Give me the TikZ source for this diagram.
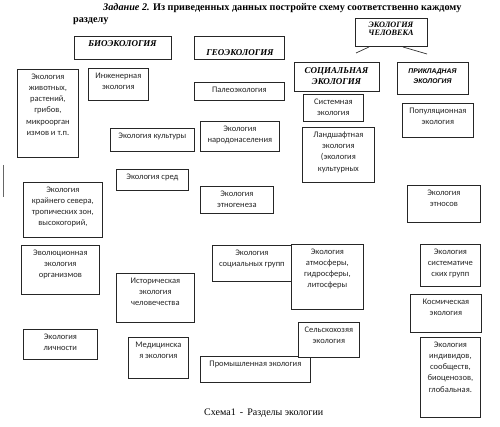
\documentclass[tikz,border=0pt]{standalone}
\usepackage{fontspec}
\setmainfont{Liberation Serif}
\newfontfamily\boxfont{Carlito}
\newfontfamily\arialf{Liberation Sans}
\tikzset{
  box/.style={draw=black!85, line width=0.75pt, fill=white, inner sep=0pt, anchor=north west},
  txt/.style={font=\boxfont\fontsize{8.5}{11.2}\selectfont, align=center, anchor=north, inner sep=0pt, text=black!85},
  head/.style={font=\bfseries\itshape\fontsize{9}{9}\selectfont, align=center, inner sep=0pt},
  headsans/.style={font=\arialf\bfseries\itshape\fontsize{6.8}{10}\selectfont, align=center, inner sep=0pt},
  link/.style={draw=black!80, line width=0.7pt},
}
\newcommand\bx[6]{%
  \node[box, minimum width={(#4-#2)*1pt}, minimum height={(#5-#3)*1pt}] (#1) at (#2,#3) {};
  \node[txt] (#1-t) at ([yshift=-4.5pt]#1.north) {#6};
}
\begin{document}
\begin{tikzpicture}[x=1pt,y=-1pt]
\useasboundingbox (0,0) rectangle (500,427);
\fill[white] (0,0) rectangle (500,427);

% title
\node[anchor=west, inner sep=0pt, font=\bfseries\fontsize{10.2}{12}\selectfont] (title1) at (103,8)
  {\textit{Задание 2.} Из приведенных данных постройте схему соответственно каждому};
\node[anchor=west, inner sep=0pt, font=\bfseries\fontsize{10.2}{12}\selectfont] (title2) at (73,21) {разделу};

% headings
\node[box, minimum width=97pt, minimum height=23pt] (bio) at (74,36) {};
\node[head] (bio-t) at (122.5,44) {БИОЭКОЛОГИЯ};
\node[box, minimum width=90pt, minimum height=23pt] (geo) at (194,36) {};
\node[head] (geo-t) at (240,53) {ГЕОЭКОЛОГИЯ};
\node[box, minimum width=72pt, minimum height=28pt] (chel) at (355,18) {};
\node[head, font=\bfseries\itshape\fontsize{8.2}{8.5}\selectfont] (chel-t) at (391,29) {ЭКОЛОГИЯ\\ЧЕЛОВЕКА};
\node[box, minimum width=85pt, minimum height=29pt] (soc) at (294,62) {};
\node[head, font=\bfseries\itshape\fontsize{9}{10.5}\selectfont] (soc-t) at (336.5,76) {СОЦИАЛЬНАЯ\\ЭКОЛОГИЯ};
\node[box, minimum width=71pt, minimum height=32pt] (prikl) at (397,62) {};
\node[headsans] (prikl-t) at (432.5,76) {ПРИКЛАДНАЯ\\ЭКОЛОГИЯ};

\coordinate (l1a) at (369,47);
\coordinate (l1b) at (356,53);
\coordinate (l2a) at (403,47);
\coordinate (l2b) at (427,54);
\draw[link] (l1a) -- (l1b);
\draw[link] (l2a) -- (l2b);

% boxes
\bx{b1}{17}{69}{78}{157}{Экология\\животных,\\растений,\\грибов,\\микроорган\\измов и т.п.}
\bx{b2}{88}{68}{148}{100}{Инженерная\\экология}
\bx{b3}{194}{82}{284}{100}{Палеоэкология}
\bx{b4}{303}{94}{363}{121}{Системная\\экология}
\bx{b5}{402}{103}{473}{137}{Популяционная\\экология}
\bx{b6}{110}{128}{194}{151}{Экология культуры}
\bx{b7}{200}{121}{279}{151}{Экология\\народонаселения}
\bx{b8}{302}{127}{374}{182}{Ландшафтная\\экология\\(экология\\культурных}
\bx{b9}{116}{169}{188}{190}{Экология сред}
\bx{b10}{23}{182}{102}{237}{Экология\\крайнего севера,\\тропических зон,\\высокогорий,}
\bx{b11}{200}{186}{273}{213}{Экология\\этногенеза}
\bx{b12}{407}{185}{480}{222}{Экология\\этносов}
\bx{b13}{21}{245}{99}{294}{Эволюционная\\экология\\организмов}
\bx{b14}{212}{245}{291}{281}{Экология\\социальных групп}
\bx{b15}{291}{244}{363}{309}{Экология\\атмосферы,\\гидросферы,\\литосферы}
\bx{b16}{116}{273}{194}{322}{Историческая\\экология\\человечества}
\bx{b17}{420}{244}{480}{286}{Экология\\систематиче\\ских групп}
\bx{b18}{410}{294}{481}{332}{Космическая\\экология}
\bx{b19}{23}{329}{97}{359}{Экология\\личности}
\bx{b20}{128}{337}{188}{378}{Медицинска\\я экология}
\bx{b21}{200}{356}{310}{382}{Промышленная экология}
\bx{b22}{298}{322}{359}{357}{Сельскохозяя\\экология}
\bx{b23}{420}{337}{480}{417}{Экология\\индивидов,\\сообществ,\\биоценозов,\\глобальная.}

% stray cursor mark
\coordinate (m1) at (3,165);
\coordinate (m2) at (3,197);
\draw[black!60, line width=0.8pt] (m1) -- (m2);

% caption
\node[anchor=west, inner sep=0pt, font=\fontsize{10}{12}\selectfont] (cap) at (204,413) {Схема1\, -\, Разделы экологии};
\end{tikzpicture}
\end{document}
